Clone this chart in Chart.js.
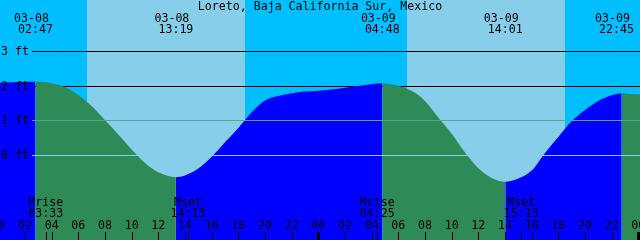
<!DOCTYPE html>
<html><head><meta charset="utf-8">
<script src="https://cdn.jsdelivr.net/npm/chart.js@4/dist/chart.umd.min.js"></script>
<style>html,body{margin:0;padding:0;background:#00BFFF;overflow:hidden}#wrap{width:640px;height:240px;position:relative}</style>
</head><body><div id="wrap"><canvas id="c"></canvas></div>
<script>
const chartTitle = 'Loreto, Baja California Sur, Mexico';
// time in hours from 03-08 00:00, height in ft
const hours = [0,1,2,2.783,3,4,5,6,7,8,9,10,11,12,13,13.317,14,15,16,17,18,19,20,21,22,23,24,25,26,27,28,28.8,29,30,31,32,33,34,35,36,37,38.017,39,40,41,42,43,44,45,46,46.75,47,48,48.25];
const heights = [2.08,2.10,2.11,2.115,2.113,2.07,1.96,1.73,1.41,1.00,0.59,0.16,-0.23,-0.50,-0.63,-0.64,-0.59,-0.39,-0.05,0.37,0.78,1.23,1.575,1.70,1.78,1.83,1.855,1.89,1.94,1.99,2.04,2.07,2.065,2.00,1.85,1.56,1.08,0.61,0.07,-0.38,-0.66,-0.77,-0.68,-0.45,0.06,0.52,0.97,1.30,1.56,1.72,1.78,1.777,1.75,1.74];
const extremeHours = [2.783, 13.317, 28.8, 38.017, 46.75];
const extremeTypes = ['high','low','high','low','high'];
const extremeDates = ['03-08','03-08','03-09','03-09','03-09'];
const extremeTimes = ['02:47','13:19','04:48','14:01','22:45'];
const moonEventHours = [3.55, 14.217, 28.417, 39.217];
const moonEventNames = ['Mrise','Mset','Mrise','Mset'];
const moonEventTimes = ['03:33','14:13','04:25','15:13'];
const sunriseHours = [6.67, 30.67];
const sunsetHours = [18.5, 42.5];
const depthLines = [3, 2, 1, 0];
const depthLabels = ['3 ft','2 ft','1 ft','0 ft'];
const tickHours = [0,2,4,6,8,10,12,14,16,18,20,22,24,26,28,30,32,34,36,38,40,42,44,46,48];
const tickLabels = ['00','02','04','06','08','10','12','14','16','18','20','22','00','02','04','06','08','10','12','14','16','18','20','22','00'];

const NIGHT = '#00BFFF', DAY = '#87CEEB', RISE = '#0000FF', FALL = '#2E8B57';
const FONT = '11.6px "DejaVu Sans Mono", monospace';

function isFalling(h) {
  let t = null;
  for (let i = 0; i < extremeHours.length; i++) if (extremeHours[i] <= h) t = extremeTypes[i];
  return t === 'high';
}

const deco = {
  id: 'deco',
  beforeDatasetsDraw(chart) {
    const ctx = chart.ctx, xs = chart.scales.x, ys = chart.scales.y;
    ctx.save();
    ctx.fillStyle = NIGHT;
    ctx.fillRect(0, 0, 640, 240);
    ctx.fillStyle = DAY;
    for (let i = 0; i < sunriseHours.length; i++) {
      const a = Math.round(xs.getPixelForValue(sunriseHours[i]));
      const b = Math.round(xs.getPixelForValue(sunsetHours[i]));
      ctx.fillRect(a, 0, b - a, 240);
    }
    ctx.fillStyle = '#000';
    [depthLines[0], depthLines[1]].forEach(v => {
      ctx.fillRect(32, Math.round(ys.getPixelForValue(v)), 608, 1);
    });
    ctx.restore();
  },
  afterDatasetsDraw(chart) {
    const ctx = chart.ctx, xs = chart.scales.x, ys = chart.scales.y;
    ctx.save();
    ctx.fillStyle = '#52A88C';
    ctx.fillRect(32, Math.round(ys.getPixelForValue(depthLines[2])), 608, 1);
    ctx.fillStyle = '#87CEEB';
    ctx.fillRect(32, Math.round(ys.getPixelForValue(depthLines[3])), 608, 1);

    ctx.fillStyle = '#000';
    ctx.font = FONT;
    ctx.textBaseline = 'alphabetic';
    ctx.textAlign = 'left';
    depthLines.forEach((v, i) => {
      ctx.fillText(depthLabels[i], 1, Math.round(ys.getPixelForValue(v)) + 4);
    });
    ctx.textAlign = 'center';
    ctx.fillText(chartTitle, 320, 10);
    extremeHours.forEach((h, i) => {
      let cx = xs.getPixelForValue(h);
      cx = Math.min(cx, 616.5);
      ctx.fillText(extremeDates[i], cx - 4, 22);
      ctx.fillText(extremeTimes[i], cx, 33);
    });
    moonEventHours.forEach((h, i) => {
      const cx = xs.getPixelForValue(h);
      ctx.fillText(moonEventNames[i], cx, 206);
      ctx.fillText(moonEventTimes[i], cx, 217);
      ctx.fillRect(Math.round(cx), 232, 1, 8);
    });
    tickHours.forEach((h, i) => {
      const cx = xs.getPixelForValue(h);
      ctx.fillText(tickLabels[i], cx, 229);
      if (h % 24 === 0) ctx.fillRect(Math.round(cx) - 1, 232, 3, 8);
      else ctx.fillRect(Math.round(cx), 232, 1, 8);
    });
    ctx.restore();
  }
};

new Chart(document.getElementById('c'), {
  type: 'line',
  data: {
    datasets: [{
      data: hours.map((h, i) => ({ x: h, y: heights[i] })),
      fill: 'start',
      backgroundColor: RISE,
      borderColor: 'rgba(0,0,0,0)',
      borderWidth: 0,
      pointRadius: 0,
      cubicInterpolationMode: 'monotone',
      segment: {
        backgroundColor: c => isFalling((c.p0.parsed.x + c.p1.parsed.x) / 2) ? FALL : RISE
      }
    }]
  },
  options: {
    animation: false,
    responsive: true,
    maintainAspectRatio: false,
    devicePixelRatio: 1,
    layout: { padding: 0 },
    plugins: { legend: { display: false }, title: { display: false }, tooltip: { enabled: false } },
    events: [],
    scales: {
      x: { type: 'linear', min: 0.125, max: 48.125, display: false },
      y: { type: 'linear', min: -2.452, max: 4.471, display: false }
    }
  },
  plugins: [deco]
});
</script>
</body></html>
